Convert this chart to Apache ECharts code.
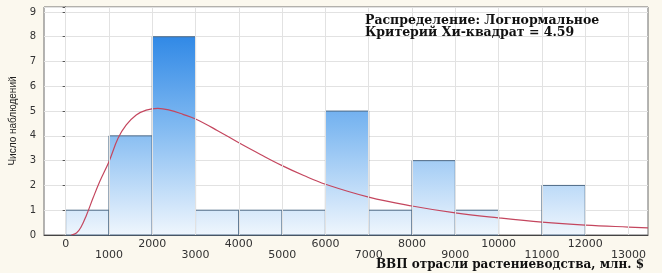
<!DOCTYPE html>
<html><head><meta charset="utf-8">
<script src="https://cdn.jsdelivr.net/npm/echarts@6/dist/echarts.min.js"></script>
<style>html,body{margin:0;padding:0;background:#fbf8ee}#c{width:662px;height:273px}</style>
</head><body><div id="c"></div>
<script>
// Histogram bins (ВВП отрасли растениеводства, млн. $)
const binStarts = [0, 1000, 2000, 3000, 4000, 5000, 6000, 7000, 8000, 9000, 10000, 11000, 12000];
const binEnds   = [1000, 2000, 3000, 4000, 5000, 6000, 7000, 8000, 9000, 10000, 11000, 12000, 13000];
const counts    = [1, 4, 8, 1, 1, 1, 5, 1, 3, 1, 0, 2, 0];
// Fitted lognormal curve
const curveX = [130, 250, 350, 480, 630, 785, 1000, 1210, 1400, 1630, 1860, 2130, 2400, 2710, 3000, 3500, 4000, 4500, 5000, 5500, 6000, 7000, 8000, 9000, 10000, 11000, 12000, 13000, 13450];
const curveY = [0.0, 0.08, 0.3, 0.8, 1.48, 2.15, 2.96, 3.9, 4.44, 4.84, 5.04, 5.11, 5.04, 4.87, 4.68, 4.22, 3.72, 3.25, 2.8, 2.4, 2.05, 1.53, 1.17, 0.89, 0.69, 0.52, 0.40, 0.32, 0.29];
const xTickValues = [0, 1000, 2000, 3000, 4000, 5000, 6000, 7000, 8000, 9000, 10000, 11000, 12000, 13000];
const yTickValues = [0, 1, 2, 3, 4, 5, 6, 7, 8, 9];
const xTitle = 'ВВП отрасли растениеводства, млн. $';
const yTitle = 'Число наблюдений';
const noteLines = ['Распределение: Логнормальное', 'Критерий Хи-квадрат = 4.59'];

const chart = echarts.init(document.getElementById('c'));
const histData = binStarts.map((s, i) => [s, binEnds[i], counts[i]]);
const curveData = curveX.map((x, i) => [x, curveY[i]]);

function xAxisRow(even, offset, showLine) {
  return {
    type: 'value', min: -500, max: 13450, interval: 500, position: 'bottom', offset: offset,
    axisLine: { show: showLine, lineStyle: { color: '#444', width: 1 } },
    axisTick: { show: false },
    splitLine: { show: false },
    axisLabel: {
      showMinLabel: false, showMaxLabel: false,
      color: '#333', fontFamily: 'DejaVu Sans', fontSize: 11, margin: 4,
      formatter: function (v) {
        if (xTickValues.indexOf(v) < 0) return '';
        const isEven = ((v / 1000) % 2) === 0;
        return isEven === even ? String(v) : '';
      }
    }
  };
}

chart.setOption({
  animation: false,
  backgroundColor: '#fbf8ee',
  grid: { left: 44, right: 14, top: 7, bottom: 38, show: true, backgroundColor: '#ffffff', borderColor: '#6a6a6a', borderWidth: 1 },
  xAxis: [xAxisRow(true, 0, true), xAxisRow(false, 11, false)],
  yAxis: [{
    type: 'value', min: 0, max: 9.2, interval: 1,
    name: yTitle, nameLocation: 'middle', nameGap: 24,
    nameTextStyle: { fontFamily: 'Liberation Sans', fontSize: 10, color: '#222' },
    axisLine: { show: true, lineStyle: { color: '#444', width: 1 } },
    axisTick: { show: false },
    splitLine: { show: true, lineStyle: { color: '#e2e2e2', width: 1 } },
    axisLabel: {
      showMaxLabel: false, color: '#333', fontFamily: 'DejaVu Sans', fontSize: 10, margin: 8,
      formatter: v => (yTickValues.indexOf(v) >= 0 ? String(v) : '')
    }
  }, {
    type: 'value', min: 0, max: 9.2, interval: 1, position: 'right',
    axisLine: { show: false }, axisLabel: { show: false }, splitLine: { show: false },
    axisTick: { show: true, inside: true, length: 3, lineStyle: { color: '#555' } }
  }],
  series: [
    {
      type: 'line', data: [[0, 0]], symbol: 'none', lineStyle: { opacity: 0 }, z: 1, silent: true,
      markLine: {
        silent: true, symbol: ['none', 'none'], label: { show: false },
        lineStyle: { color: '#e2e2e2', type: 'solid', width: 1 },
        data: xTickValues.map(v => ({ xAxis: v }))
      }
    },
    {
      type: 'custom', z: 2,
      data: histData,
      encode: { x: [0, 1], y: 2 },
      renderItem: function (params, api) {
        const x0 = api.value(0), x1 = api.value(1), c = api.value(2);
        if (!c) return null;
        const pTop = api.coord([x0, c]);
        const pBot = api.coord([x1, 0]);
        const y8 = api.coord([0, 8])[1];
        const y0 = api.coord([0, 0])[1];
        return {
          type: 'rect',
          shape: { x: pTop[0], y: pTop[1], width: pBot[0] - pTop[0], height: pBot[1] - pTop[1] },
          style: {
            fill: new echarts.graphic.LinearGradient(0, y8, 0, y0, [
              { offset: 0, color: '#3189e6' },
              { offset: 0.45, color: '#80b9f1' },
              { offset: 1, color: '#eff6fd' }
            ], true),
            stroke: '#4d6985', lineWidth: 1
          }
        };
      }
    },
    {
      type: 'line', z: 3, data: curveData, smooth: 0.4, showSymbol: false, symbol: 'none',
      lineStyle: { color: '#c4465e', width: 1.2 }
    }
  ],
  graphic: [
    {
      type: 'text', left: 365, top: 14, z: 10,
      style: { text: noteLines.join('\n'), font: 'bold 12.5px "DejaVu Serif"', fill: '#111', lineHeight: 12 }
    },
    {
      type: 'text', right: 18, top: 259, z: 10,
      style: { text: xTitle, font: 'bold 12px "DejaVu Serif"', fill: '#111' }
    }
  ]
});
</script>
</body></html>
